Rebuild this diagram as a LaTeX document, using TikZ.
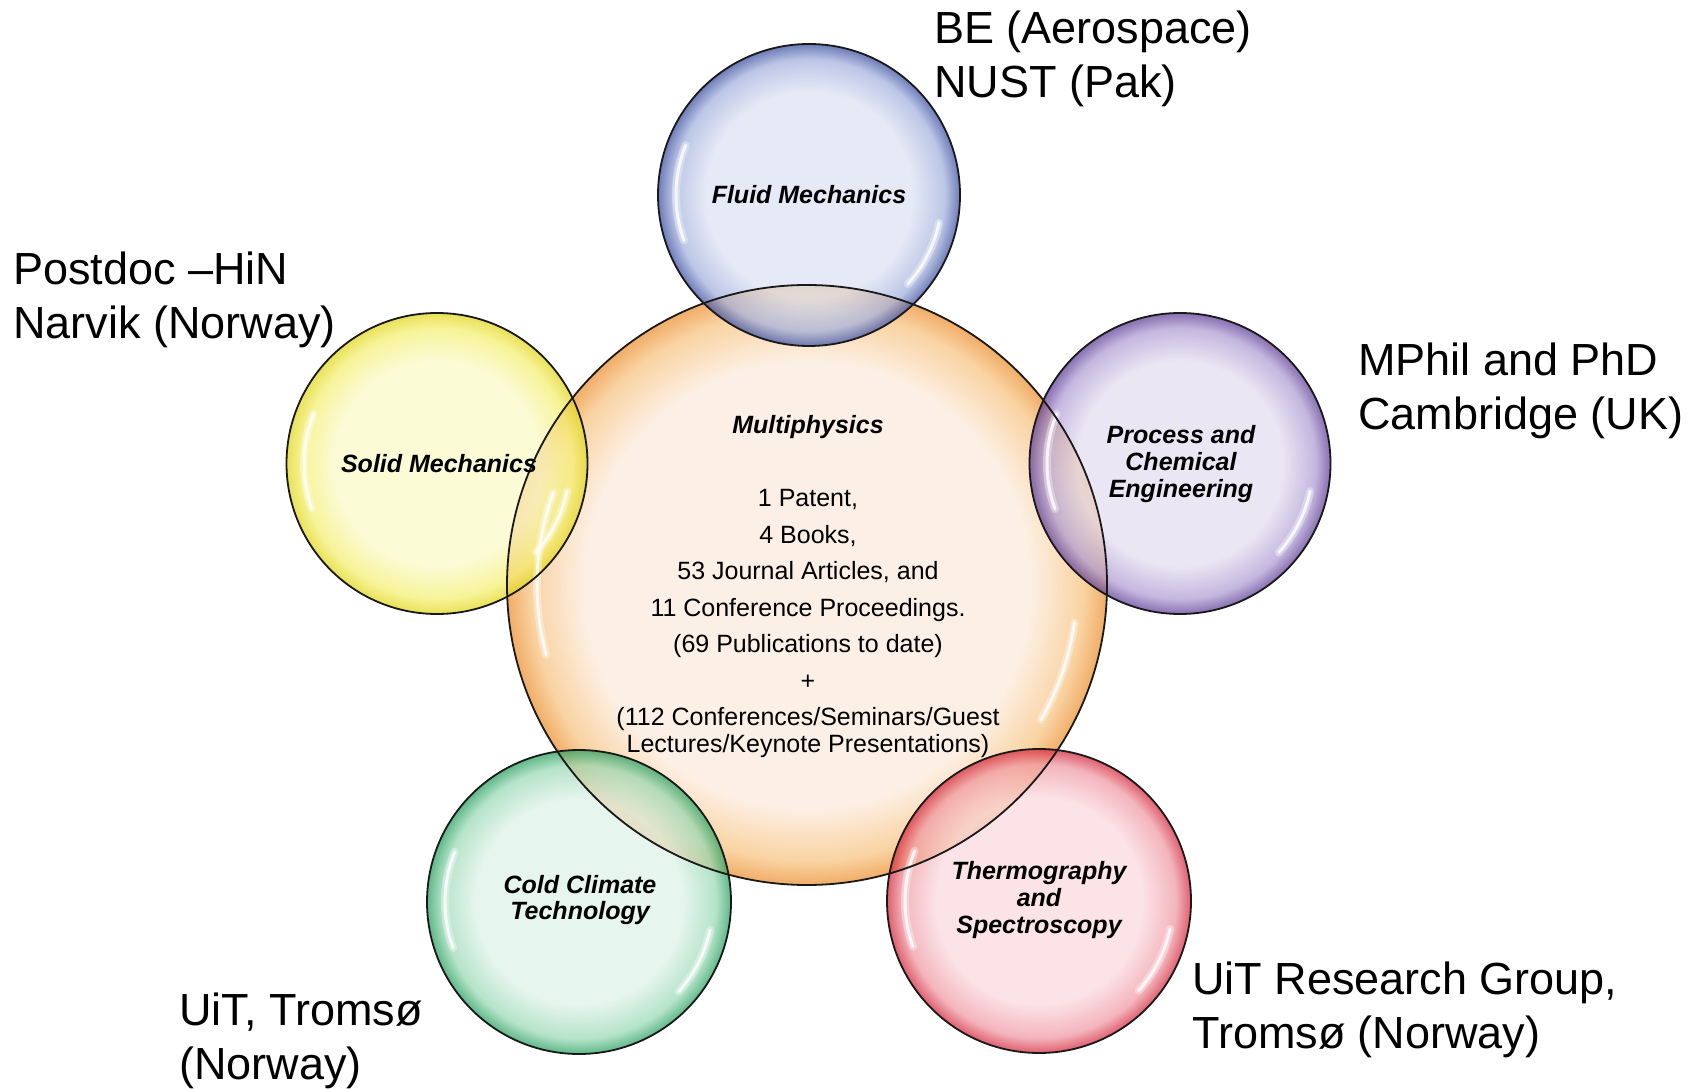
\documentclass[tikz,border=0pt]{standalone}
\usepackage{fontspec}
\setmainfont{Liberation Sans}
\definecolor{cIn}{RGB}{252,236,222}\definecolor{cMid}{RGB}{248,196,130}\definecolor{cRim}{RGB}{236,145,50}
\definecolor{bIn}{RGB}{222,228,244}\definecolor{bMid}{RGB}{165,178,222}\definecolor{bRim}{RGB}{60,80,160}
\definecolor{yIn}{RGB}{250,250,200}\definecolor{yMid}{RGB}{245,240,115}\definecolor{yRim}{RGB}{225,215,30}
\definecolor{pIn}{RGB}{228,222,240}\definecolor{pMid}{RGB}{175,158,212}\definecolor{pRim}{RGB}{95,62,150}
\definecolor{gIn}{RGB}{222,242,232}\definecolor{gMid}{RGB}{155,218,182}\definecolor{gRim}{RGB}{40,160,95}
\definecolor{rIn}{RGB}{250,218,224}\definecolor{rMid}{RGB}{240,155,165}\definecolor{rRim}{RGB}{212,40,60}
\pgfdeclareradialshading{bubC}{\pgfpoint{0bp}{0bp}}{color(0bp)=(cIn); color(18.5bp)=(cIn); color(23bp)=(cMid); color(25bp)=(cRim); color(50bp)=(cRim)}
\pgfdeclareradialshading{bubB}{\pgfpoint{0bp}{0bp}}{color(0bp)=(bIn); color(17bp)=(bIn); color(22.5bp)=(bMid); color(25bp)=(bRim); color(50bp)=(bRim)}
\pgfdeclareradialshading{bubY}{\pgfpoint{0bp}{0bp}}{color(0bp)=(yIn); color(17bp)=(yIn); color(22.5bp)=(yMid); color(25bp)=(yRim); color(50bp)=(yRim)}
\pgfdeclareradialshading{bubP}{\pgfpoint{0bp}{0bp}}{color(0bp)=(pIn); color(17bp)=(pIn); color(22.5bp)=(pMid); color(25bp)=(pRim); color(50bp)=(pRim)}
\pgfdeclareradialshading{bubG}{\pgfpoint{0bp}{0bp}}{color(0bp)=(gIn); color(17bp)=(gIn); color(22.5bp)=(gMid); color(25bp)=(gRim); color(50bp)=(gRim)}
\pgfdeclareradialshading{bubR}{\pgfpoint{0bp}{0bp}}{color(0bp)=(rIn); color(17bp)=(rIn); color(22.5bp)=(rMid); color(25bp)=(rRim); color(50bp)=(rRim)}
\tikzset{
  bubble/.style={circle, inner sep=0pt, outer sep=0pt, shade, shading=#1, fill opacity=0.74},
  rimline/.style={draw=black!90, line width=1.8pt},
  shine/.style={white, line width=3pt, opacity=0.8, line cap=round},
  glow/.style={white, line width=8pt, opacity=0.35, line cap=round},
  lab/.style={font=\fontsize{25}{26.7}\selectfont\bfseries\itshape, align=center, inner sep=0pt},
  body/.style={font=\fontsize{25}{36.5}\selectfont, align=center, inner sep=0pt},
  side/.style={font=\fontsize{45}{54}\selectfont, align=left, anchor=west, inner sep=0pt}
}
\begin{document}
\begin{tikzpicture}[x=1pt,y=1pt]
\useasboundingbox (0,0) rectangle (1704,1088);
\fill[white] (0,0) rectangle (1704,1088);
% fills
\node[bubble=bubC, minimum size=600pt] (core) at (807,503) {};
\node[bubble=bubB, minimum size=302pt] (fluid) at (809,893) {};
\node[bubble=bubY, minimum size=301pt] (solid) at (437,624.5) {};
\node[bubble=bubP, minimum size=301pt] (proc) at (1180,624.5) {};
\node[bubble=bubG, minimum size=304pt] (cold) at (579,186) {};
\node[bubble=bubR, minimum size=304pt] (thermo) at (1039,187) {};
% highlights
\foreach \n/\r in {fluid/133,solid/133,proc/133,cold/134,thermo/134}{
  \draw[glow] ([shift={(158:\r pt)}]\n.center) arc[start angle=158, end angle=200, radius=\r pt];
  \draw[shine] ([shift={(158:\r pt)}]\n.center) arc[start angle=158, end angle=200, radius=\r pt];
  \draw[glow] ([shift={(-12:\r pt)}]\n.center) arc[start angle=-12, end angle=-42, radius=\r pt];
  \draw[shine] ([shift={(-12:\r pt)}]\n.center) arc[start angle=-12, end angle=-42, radius=\r pt];
}
\draw[glow] ([shift={(160:270pt)}]core.center) arc[start angle=160, end angle=195, radius=270pt];
\draw[shine] ([shift={(160:270pt)}]core.center) arc[start angle=160, end angle=195, radius=270pt];
\draw[glow] ([shift={(-8:270pt)}]core.center) arc[start angle=-8, end angle=-30, radius=270pt];
\draw[shine] ([shift={(-8:270pt)}]core.center) arc[start angle=-8, end angle=-30, radius=270pt];
% outlines
\draw[rimline] (core.center) circle[radius=300pt];
\draw[rimline] (fluid.center) circle[radius=151pt];
\draw[rimline] (solid.center) circle[radius=150.5pt];
\draw[rimline] (proc.center) circle[radius=150.5pt];
\draw[rimline] (cold.center) circle[radius=152pt];
\draw[rimline] (thermo.center) circle[radius=152pt];
% circle texts
\node[lab] (tfluid) at (fluid.center) {Fluid Mechanics};
\node[lab] (tsolid) at (439,624) {Solid Mechanics};
\node[lab] (tproc) at (1181,624) {Process and\\Chemical\\Engineering};
\node[lab] (tcold) at (580,188) {Cold Climate\\Technology};
\node[lab] (tthermo) at (1039,188) {Thermography\\and\\Spectroscopy};
\node[body] (tcore) at (808,501.4) {{\bfseries\itshape Multiphysics}\\[36.5pt]
1 Patent,\\4 Books,\\53 Journal Articles, and\\11 Conference Proceedings.\\(69 Publications to date)\\+\\
(112 Conferences/Seminars/Guest\\[-9.5pt]Lectures/Keynote Presentations)};
% side labels
\node[side] (lbe) at (934,1029.5) {BE (Aerospace)\\NUST (Pak)};
\node[side] (lpd) at (13,788) {Postdoc \textendash HiN\\Narvik (Norway)};
\node[side] (lmp) at (1358,697) {MPhil and PhD\\Cambridge (UK)};
\node[side] (luit) at (179,47) {UiT, Tromsø\\(Norway)};
\node[side] (lres) at (1192,78) {UiT Research Group,\\Tromsø (Norway)};
\end{tikzpicture}
\end{document}
